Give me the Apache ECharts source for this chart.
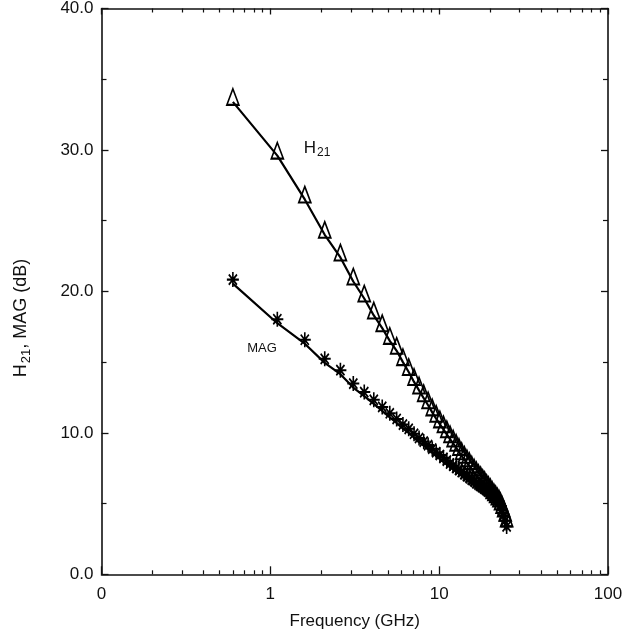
<!DOCTYPE html>
<html>
<head>
<meta charset="utf-8">
<script src="https://cdn.jsdelivr.net/npm/echarts@6/dist/echarts.min.js"></script>
<style>
  html, body { margin: 0; padding: 0; background: #fff; }
  #chart { width: 635px; height: 636px; }
</style>
</head>
<body>
<div id="chart"></div>
<script>
// Measured gain versus frequency (0.5 GHz steps)
const freqGHz = [0.6, 1.1, 1.6, 2.1, 2.6, 3.1, 3.6, 4.1, 4.6, 5.1,
                 5.6, 6.1, 6.6, 7.1, 7.6, 8.1, 8.6, 9.1, 9.6, 10.1,
                 10.6, 11.1, 11.6, 12.1, 12.6, 13.1, 13.6, 14.1, 14.6, 15.1,
                 15.6, 16.1, 16.6, 17.1, 17.6, 18.1, 18.6, 19.1, 19.6, 20.1,
                 20.6, 21.1, 21.6, 22.1, 22.6, 23.1, 23.6, 24.1, 24.6, 25.1];
const h21dB = [33.4, 29.6, 26.5, 24.0, 22.4, 20.7, 19.5, 18.3, 17.4, 16.5,
               15.8, 15.0, 14.3, 13.6, 13.0, 12.45, 11.95, 11.45, 11.0, 10.6,
               10.25, 9.9, 9.55, 9.25, 8.95, 8.65, 8.35, 8.1, 7.85, 7.65,
               7.4, 7.2, 7.0, 6.8, 6.65, 6.45, 6.3, 6.1, 5.95, 5.8,
               5.6, 5.45, 5.3, 5.15, 5.0, 4.8, 4.55, 4.3, 4.0, 3.6];
const magdB = [20.55, 17.75, 16.3, 14.95, 14.15, 13.2, 12.6, 12.05, 11.55, 11.1,
               10.7, 10.3, 10.0, 9.65, 9.35, 9.1, 8.85, 8.6, 8.35, 8.15,
               7.95, 7.75, 7.55, 7.4, 7.25, 7.1, 6.95, 6.8, 6.65, 6.55,
               6.4, 6.3, 6.15, 6.05, 5.95, 5.85, 5.75, 5.65, 5.55, 5.45,
               5.35, 5.25, 5.1, 4.95, 4.8, 4.55, 4.25, 3.9, 3.5, 3.1];

// Axis ticks and their labels
const xMajorTicks = [0.1, 1, 10, 100];
const xMajorLabels = ['0', '1', '10', '100'];
const xMinorTicks = [0.2, 0.3, 0.4, 0.5, 0.6, 0.7, 0.8, 0.9,
                     2, 3, 4, 5, 6, 7, 8, 9,
                     20, 30, 40, 50, 60, 70, 80, 90];
const yMajorTicks = [0, 10, 20, 30, 40];
const yMajorLabels = ['0.0', '10.0', '20.0', '30.0', '40.0'];

const FONT = '"Liberation Sans", Arial, Helvetica, sans-serif';
const INK = '#111';
const STAR = 'path://M5 0V10M0 5H10M1.6 1.6L8.4 8.4M1.6 8.4L8.4 1.6';

function xLabel(v) {
  for (let i = 0; i < xMajorTicks.length; i++) {
    if (Math.abs(Math.log10(v) - Math.log10(xMajorTicks[i])) < 1e-6) return xMajorLabels[i];
  }
  return '';
}
function yLabel(v) {
  const i = yMajorTicks.indexOf(v);
  return i >= 0 ? yMajorLabels[i] : '';
}

// log frequency axis; "major" axes carry the frame line, "minor" ones only the 2..9 ticks
function freqAxis(position, kind) {
  const major = kind === 'major';
  return {
    type: 'log', logBase: 10, min: 0.1, max: 100, position: position,
    axisLine: { show: major, onZero: false, lineStyle: { color: INK, width: 1.6 } },
    axisTick: major
      ? { show: true, inside: true, length: position === 'bottom' ? 8 : 6, lineStyle: { color: INK, width: 1.3 } }
      : { show: true, inside: true, length: 4, customValues: xMinorTicks, lineStyle: { color: INK, width: 1.2 } },
    axisLabel: (major && position === 'bottom')
      ? { show: true, margin: 12, formatter: xLabel, color: INK, fontSize: 17, fontFamily: FONT }
      : { show: false },
    splitLine: { show: false },
    minorTick: { show: false },
    name: (major && position === 'bottom') ? 'Frequency (GHz)' : '',
    nameLocation: 'middle', nameGap: 39,
    nameTextStyle: { color: INK, fontSize: 17, fontFamily: FONT }
  };
}

function gainAxis(position) {
  const left = position === 'left';
  return {
    type: 'value', min: 0, max: 40, interval: 10, position: position,
    axisLine: { show: true, onZero: false, lineStyle: { color: INK, width: 1.6 } },
    axisTick: { show: true, inside: true, length: 7, lineStyle: { color: INK, width: 1.3 } },
    minorTick: { show: true, splitNumber: 2, length: 5, lineStyle: { color: INK, width: 1.2 } },
    axisLabel: left
      ? { show: true, margin: 8, formatter: yLabel, color: INK, fontSize: 17, fontFamily: FONT,
          padding: [5, 0, 0, 0],
          verticalAlignMinLabel: 'middle', verticalAlignMaxLabel: 'middle' }
      : { show: false },
    splitLine: { show: false }
  };
}

const chart = echarts.init(document.getElementById('chart'), null, { renderer: 'canvas' });

chart.setOption({
  animation: false,
  backgroundColor: '#fff',
  grid: { left: 101.5, right: 27, top: 5, bottom: 61.7, containLabel: false },
  xAxis: [
    freqAxis('bottom', 'major'),
    freqAxis('bottom', 'minor'),
    freqAxis('top', 'major'),
    freqAxis('top', 'minor')
  ],
  yAxis: [gainAxis('left'), gainAxis('right')],
  series: [
    {
      name: 'H21', type: 'line', xAxisIndex: 0, yAxisIndex: 0,
      data: freqGHz.map((f, i) => [f, h21dB[i]]),
      lineStyle: { color: '#000', width: 2.2 },
      symbol: 'triangle', symbolSize: [12, 16], symbolOffset: [0, -5],
      itemStyle: { color: 'rgba(0,0,0,0)', borderColor: '#000', borderWidth: 1.8 },
      emphasis: { disabled: true }, z: 2
    },
    {
      name: 'MAG', type: 'line', xAxisIndex: 0, yAxisIndex: 0,
      data: freqGHz.map((f, i) => [f, magdB[i]]),
      lineStyle: { color: '#000', width: 2.2 },
      symbol: STAR, symbolSize: [12, 15], symbolOffset: [0, -4],
      itemStyle: { color: 'rgba(0,0,0,0)', borderColor: '#000', borderWidth: 1.8 },
      emphasis: { disabled: true }, z: 3
    }
  ],
  graphic: [
    {
      type: 'text', x: 317, y: 148, z: 10,
      style: {
        text: '{a|H}{s|21}', align: 'center', verticalAlign: 'middle', fill: INK,
        rich: {
          a: { fontSize: 17, fontFamily: FONT, fill: INK },
          s: { fontSize: 12, fontFamily: FONT, fill: INK, padding: [9, 0, 0, 1] }
        }
      }
    },
    {
      type: 'text', x: 262, y: 348, z: 10,
      style: {
        text: 'MAG', align: 'center', verticalAlign: 'middle', fill: INK,
        font: '13px ' + FONT
      }
    },
    {
      type: 'text', x: 21, y: 318, rotation: Math.PI / 2, z: 10,
      style: {
        text: '{a|H}{s|21}{a|, MAG (dB)}', align: 'center', verticalAlign: 'middle', fill: INK,
        rich: {
          a: { fontSize: 18, fontFamily: FONT, fill: INK },
          s: { fontSize: 13, fontFamily: FONT, fill: INK, padding: [10, 0, 0, 1] }
        }
      }
    }
  ]
});
</script>
</body>
</html>
